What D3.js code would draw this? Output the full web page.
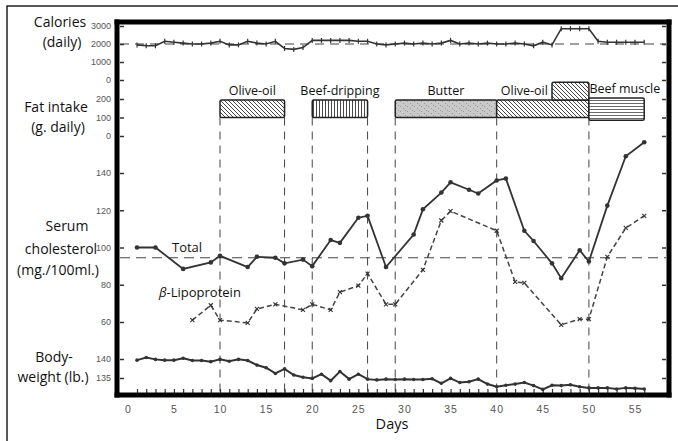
<!DOCTYPE html>
<html>
<head>
<meta charset="utf-8">
<script src="https://cdn.jsdelivr.net/npm/d3@7"></script>
<style>
  body { margin: 0; background: #fff; }
  svg text { font-family: "Open Sans", sans-serif; fill: #111; }
  .tick text { font-family: "Liberation Sans", sans-serif; fill: #555; }
</style>
</head>
<body>
<svg id="chart" width="678" height="441"></svg>
<script>
// Daily series, day 1..56
const days = d3.range(1, 57);
const calories = [1950, 1900, 1900, 2150, 2100, 2050, 2000, 2000, 2050, 2150,
  1950, 1950, 2150, 2050, 2000, 2150, 1750, 1700, 1800, 2200,
  2200, 2200, 2200, 2200, 2150, 2150, 2000, 1950, 2000, 2050,
  2000, 2050, 2000, 2050, 2200, 2000, 2050, 2000, 2050, 2000,
  2000, 2050, 2000, 1900, 2100, 1950, 2850, 2850, 2850, 2850,
  2150, 2100, 2100, 2100, 2100, 2100];
const bodyWeight = [139.7, 140.4, 139.9, 139.7, 139.7, 140.2, 139.6, 139.6, 139.3, 139.9,
  139.4, 139.9, 139.6, 138.4, 137.7, 136.2, 137.4, 135.8, 135.2, 134.9,
  136, 134.3, 136.7, 134.7, 136, 134.7, 134.5, 134.7, 134.6, 134.7,
  134.6, 134.6, 134.8, 133.6, 134.9, 133.8, 134, 134.7, 133.4, 132.7,
  133.1, 133.4, 133.8, 133, 132, 133.1, 133, 133.2, 132.7, 132.4,
  132.4, 132.4, 132.1, 132.4, 132.3, 132.1];

// Serum cholesterol, sampled days
const cholDays = [1, 3, 6, 9, 10, 13, 14, 16, 17, 19, 20, 22, 23, 25, 26, 28, 31, 32, 34, 35,
  37, 38, 40, 41, 43, 44, 46, 47, 49, 50, 52, 54, 56];
const cholTotal = [100, 100, 88.5, 92, 95.5, 89.5, 95, 94.5, 91.5, 93.5, 90, 104, 102.5, 116, 117, 89.5, 107, 120.5, 129.5, 135,
  131, 129, 136, 137, 109, 103.5, 91.5, 83.5, 98.5, 92.5, 122.5, 149, 156.5];
const lipoDays = [7, 9, 10, 13, 14, 16, 19, 20, 22, 23, 25, 26, 28, 29, 32, 34, 35, 40, 42, 43, 47, 49, 50, 52, 54, 56];
const lipoValues = [61, 69, 61, 59.5, 67, 69.5, 66.5, 69.5, 66.5, 76, 79.5, 86, 69.5, 69.5, 88, 114.5, 119.5, 109, 81.5, 81,
  58.5, 61.5, 61.5, 95, 110.5, 117];

// Fat intake periods
const fatType = ["Olive-oil", "Beef-dripping", "Butter", "Olive-oil", "Olive-oil", "Beef muscle"];
const fatLabels = ["Olive-oil", "Beef-dripping", "Butter", "Olive-oil", "", "Beef muscle"];
const fatStart = [10, 20, 29, 40, 46, 50];
const fatEnd = [17, 26, 40, 50, 50, 56];
const fatLow = [100, 100, 100, 100, 195, 85];
const fatHigh = [195, 195, 195, 195, 290, 205];
const dietChanges = [10, 17, 20, 26, 29, 40, 50];

// Reference levels
const calRef = 2000;
const cholRef = 94.5;

// Tick labels
const calTicks = [0, 1000, 2000, 3000];
const fatTicks = [0, 100, 200];
const cholTicks = [60, 80, 100, 120, 140];
const wtTicks = [135, 140];
const dayTicks = d3.range(0, 56, 5);

const svg = d3.select('#chart');
const frameLeft = 117, frameRight = 669, frameTop = 22, frameBottom = 395;
const frameW = 5;

const x = d3.scaleLinear().domain([0, 55]).range([127.8, 635]);
const yCal = d3.scaleLinear().domain([0, 3000]).range([80, 26]);
const yFat = d3.scaleLinear().domain([0, 200]).range([136, 99]);
const yChol = d3.scaleLinear().domain([60, 140]).range([322, 173]);
const yWt = d3.scaleLinear().domain([135, 140]).range([378, 359]);

// patterns
const defs = svg.append('defs');
const diag = defs.append('pattern').attr('id', 'diag').attr('patternUnits', 'userSpaceOnUse')
  .attr('width', 4).attr('height', 4);
diag.append('rect').attr('width', 4).attr('height', 4).attr('fill', '#fff');
diag.append('path').attr('d', 'M0,0L4,4M-1,3L1,5M3,-1L5,1').attr('stroke', '#333').attr('stroke-width', 0.9);
const vert = defs.append('pattern').attr('id', 'vert').attr('patternUnits', 'userSpaceOnUse')
  .attr('width', 3).attr('height', 3);
vert.append('rect').attr('width', 3).attr('height', 3).attr('fill', '#fff');
vert.append('path').attr('d', 'M1.5,0V3').attr('stroke', '#333').attr('stroke-width', 0.9);
const horiz = defs.append('pattern').attr('id', 'horiz').attr('patternUnits', 'userSpaceOnUse')
  .attr('width', 3).attr('height', 3);
horiz.append('rect').attr('width', 3).attr('height', 3).attr('fill', '#fff');
horiz.append('path').attr('d', 'M0,1.5H3').attr('stroke', '#444').attr('stroke-width', 0.8);
const butter = defs.append('pattern').attr('id', 'butter').attr('patternUnits', 'userSpaceOnUse')
  .attr('width', 7).attr('height', 5);
butter.append('rect').attr('width', 7).attr('height', 5).attr('fill', '#c9c9c9');
butter.append('path').attr('d', 'M1,1h1v1h-1zM4,3h1v1h-1zM6,0h1v1h-1z').attr('fill', '#999');

const fatFill = { "Olive-oil": "url(#diag)", "Beef-dripping": "url(#vert)", "Butter": "url(#butter)", "Beef muscle": "url(#horiz)" };

// outer border
svg.append('rect').attr('x', 7).attr('y', 6).attr('width', 700).attr('height', 460)
  .attr('fill', 'none').attr('stroke', '#000').attr('stroke-width', 1.3);

// vertical dashed lines at diet changes
svg.append('g').selectAll('line').data(dietChanges).join('line')
  .attr('x1', d => x(d)).attr('x2', d => x(d))
  .attr('y1', yFat(100)).attr('y2', frameBottom - 3)
  .attr('stroke', '#444').attr('stroke-width', 1).attr('stroke-dasharray', '8,6');

// horizontal reference dashed lines
svg.append('line').attr('x1', frameLeft + 3).attr('x2', frameRight - 3)
  .attr('y1', yCal(calRef)).attr('y2', yCal(calRef))
  .attr('stroke', '#444').attr('stroke-width', 1.2).attr('stroke-dasharray', '9,6');
svg.append('line').attr('x1', frameLeft + 3).attr('x2', frameRight - 3)
  .attr('y1', yChol(cholRef)).attr('y2', yChol(cholRef))
  .attr('stroke', '#444').attr('stroke-width', 1.2).attr('stroke-dasharray', '10,6');

// fat bars
const fatIdx = d3.range(fatType.length);
svg.append('g').selectAll('rect').data(fatIdx).join('rect')
  .attr('x', i => x(fatStart[i])).attr('width', i => x(fatEnd[i]) - x(fatStart[i]))
  .attr('y', i => yFat(fatHigh[i])).attr('height', i => yFat(fatLow[i]) - yFat(fatHigh[i]))
  .attr('rx', 1.5)
  .attr('fill', i => fatFill[fatType[i]])
  .attr('stroke', '#222').attr('stroke-width', 1.5);

svg.append('g').selectAll('text').data(fatIdx.filter(i => fatLabels[i])).join('text')
  .attr('x', i => i === 3 ? x(43) : i === 5 ? x(53.9) : x((fatStart[i] + fatEnd[i]) / 2))
  .attr('y', i => yFat(fatHigh[i]) - 5)
  .attr('text-anchor', 'middle')
  .attr('font-size', 12.5)
  .text(i => fatLabels[i]);

// calories line
const calLine = d3.line().x((d, i) => x(days[i])).y(d => yCal(d));
svg.append('path').datum(calories).attr('d', calLine)
  .attr('fill', 'none').attr('stroke', '#333').attr('stroke-width', 1.6);
svg.append('g').selectAll('path').data(calories).join('path')
  .attr('d', (d, i) => `M${x(days[i])},${yCal(d) - 2.5}v5`)
  .attr('stroke', '#333').attr('stroke-width', 1.2);

// cholesterol total
const cholLine = d3.line().x((d, i) => x(cholDays[i])).y(d => yChol(d));
svg.append('path').datum(cholTotal).attr('d', cholLine)
  .attr('fill', 'none').attr('stroke', '#333').attr('stroke-width', 1.8);
svg.append('g').selectAll('circle').data(cholTotal).join('circle')
  .attr('cx', (d, i) => x(cholDays[i])).attr('cy', d => yChol(d)).attr('r', 2.3)
  .attr('fill', '#333');

// beta-lipoprotein
const lipoLine = d3.line().x((d, i) => x(lipoDays[i])).y(d => yChol(d));
svg.append('path').datum(lipoValues).attr('d', lipoLine)
  .attr('fill', 'none').attr('stroke', '#444').attr('stroke-width', 1.5).attr('stroke-dasharray', '5,3');
svg.append('g').selectAll('path').data(lipoValues).join('path')
  .attr('d', (d, i) => {
    const cx = x(lipoDays[i]), cy = yChol(d);
    return `M${cx - 2},${cy - 2}L${cx + 2},${cy + 2}M${cx - 2},${cy + 2}L${cx + 2},${cy - 2}`;
  })
  .attr('stroke', '#333').attr('stroke-width', 1.1);

// body weight
const wtLine = d3.line().x((d, i) => x(days[i])).y(d => yWt(d));
svg.append('path').datum(bodyWeight).attr('d', wtLine)
  .attr('fill', 'none').attr('stroke', '#333').attr('stroke-width', 2);
svg.append('g').selectAll('circle').data(bodyWeight).join('circle')
  .attr('cx', (d, i) => x(days[i])).attr('cy', d => yWt(d)).attr('r', 1.8)
  .attr('fill', '#333');

// series labels
svg.append('text').attr('x', 172).attr('y', 252).attr('font-size', 13).text('Total');
const lipoLabel = svg.append('text').attr('x', 159).attr('y', 297).attr('font-size', 13);
lipoLabel.append('tspan').attr('font-style', 'italic').text('β');
lipoLabel.append('tspan').text('-Lipoprotein');

// left axes (labels + inner tick marks) and mirrored right tick marks
function leftAxis(scale, values) {
  svg.append('g').attr('transform', `translate(${frameLeft + 3},0)`)
    .call(d3.axisLeft(scale).tickValues(values).tickFormat(d3.format('d'))
      .tickSizeInner(-4).tickSizeOuter(0).tickPadding(9))
    .call(g => g.select('.domain').remove())
    .call(g => g.selectAll('.tick text').attr('font-size', 9))
    .call(g => g.selectAll('.tick line').attr('stroke', '#333').attr('stroke-width', 1.5));
  svg.append('g').attr('transform', `translate(${frameRight - 3},0)`)
    .call(d3.axisRight(scale).tickValues(values).tickSizeInner(-4).tickSizeOuter(0).tickFormat(''))
    .call(g => g.select('.domain').remove())
    .call(g => g.selectAll('.tick line').attr('stroke', '#333').attr('stroke-width', 1.5));
}
leftAxis(yCal, calTicks);
leftAxis(yFat, fatTicks);
leftAxis(yChol, cholTicks);
leftAxis(yWt, wtTicks);

// bottom axis: daily ticks + labels every 5 days
svg.append('g').attr('transform', `translate(0,${frameBottom - 2})`)
  .call(d3.axisBottom(x).tickValues(days).tickSizeInner(-4).tickSizeOuter(0).tickFormat(''))
  .call(g => g.select('.domain').remove())
  .call(g => g.selectAll('.tick line').attr('stroke', '#333').attr('stroke-width', 1.2));
svg.append('g').attr('transform', `translate(0,${frameBottom + 2})`)
  .call(d3.axisBottom(x).tickValues(dayTicks).tickSize(0).tickPadding(9))
  .call(g => g.select('.domain').remove())
  .call(g => g.selectAll('.tick text').attr('font-size', 10.5).attr('letter-spacing', 1));

// plot frame as four solid bands
const frame = svg.append('g').attr('fill', '#000');
frame.append('rect').attr('x', frameLeft - frameW / 2).attr('y', frameTop - frameW / 2)
  .attr('width', frameRight - frameLeft + frameW).attr('height', frameW);
frame.append('rect').attr('x', frameLeft - frameW / 2).attr('y', frameBottom - frameW / 2)
  .attr('width', frameRight - frameLeft + frameW).attr('height', frameW);
frame.append('rect').attr('x', frameLeft - frameW / 2).attr('y', frameTop - frameW / 2)
  .attr('width', frameW).attr('height', frameBottom - frameTop + frameW);
frame.append('rect').attr('x', frameRight - frameW / 2).attr('y', frameTop - frameW / 2)
  .attr('width', frameW).attr('height', frameBottom - frameTop + frameW);

// panel titles
const titles = [
  ['Calories', 60, 27], ['(daily)', 62, 47],
  ['Fat intake', 56, 112], ['(g. daily)', 58, 132],
  ['Serum', 67, 231], ['cholesterol', 61, 254], ['(mg./100ml.)', 58, 275],
  ['Body-', 54, 362], ['weight (lb.)', 53, 382]
];
svg.append('g').selectAll('text').data(titles).join('text')
  .attr('x', d => d[1]).attr('y', d => d[2])
  .attr('text-anchor', 'middle').attr('font-size', 14)
  .text(d => d[0]);

svg.append('text').attr('x', 392).attr('y', 429).attr('text-anchor', 'middle')
  .attr('font-size', 14.5).text('Days');
</script>
</body>
</html>
